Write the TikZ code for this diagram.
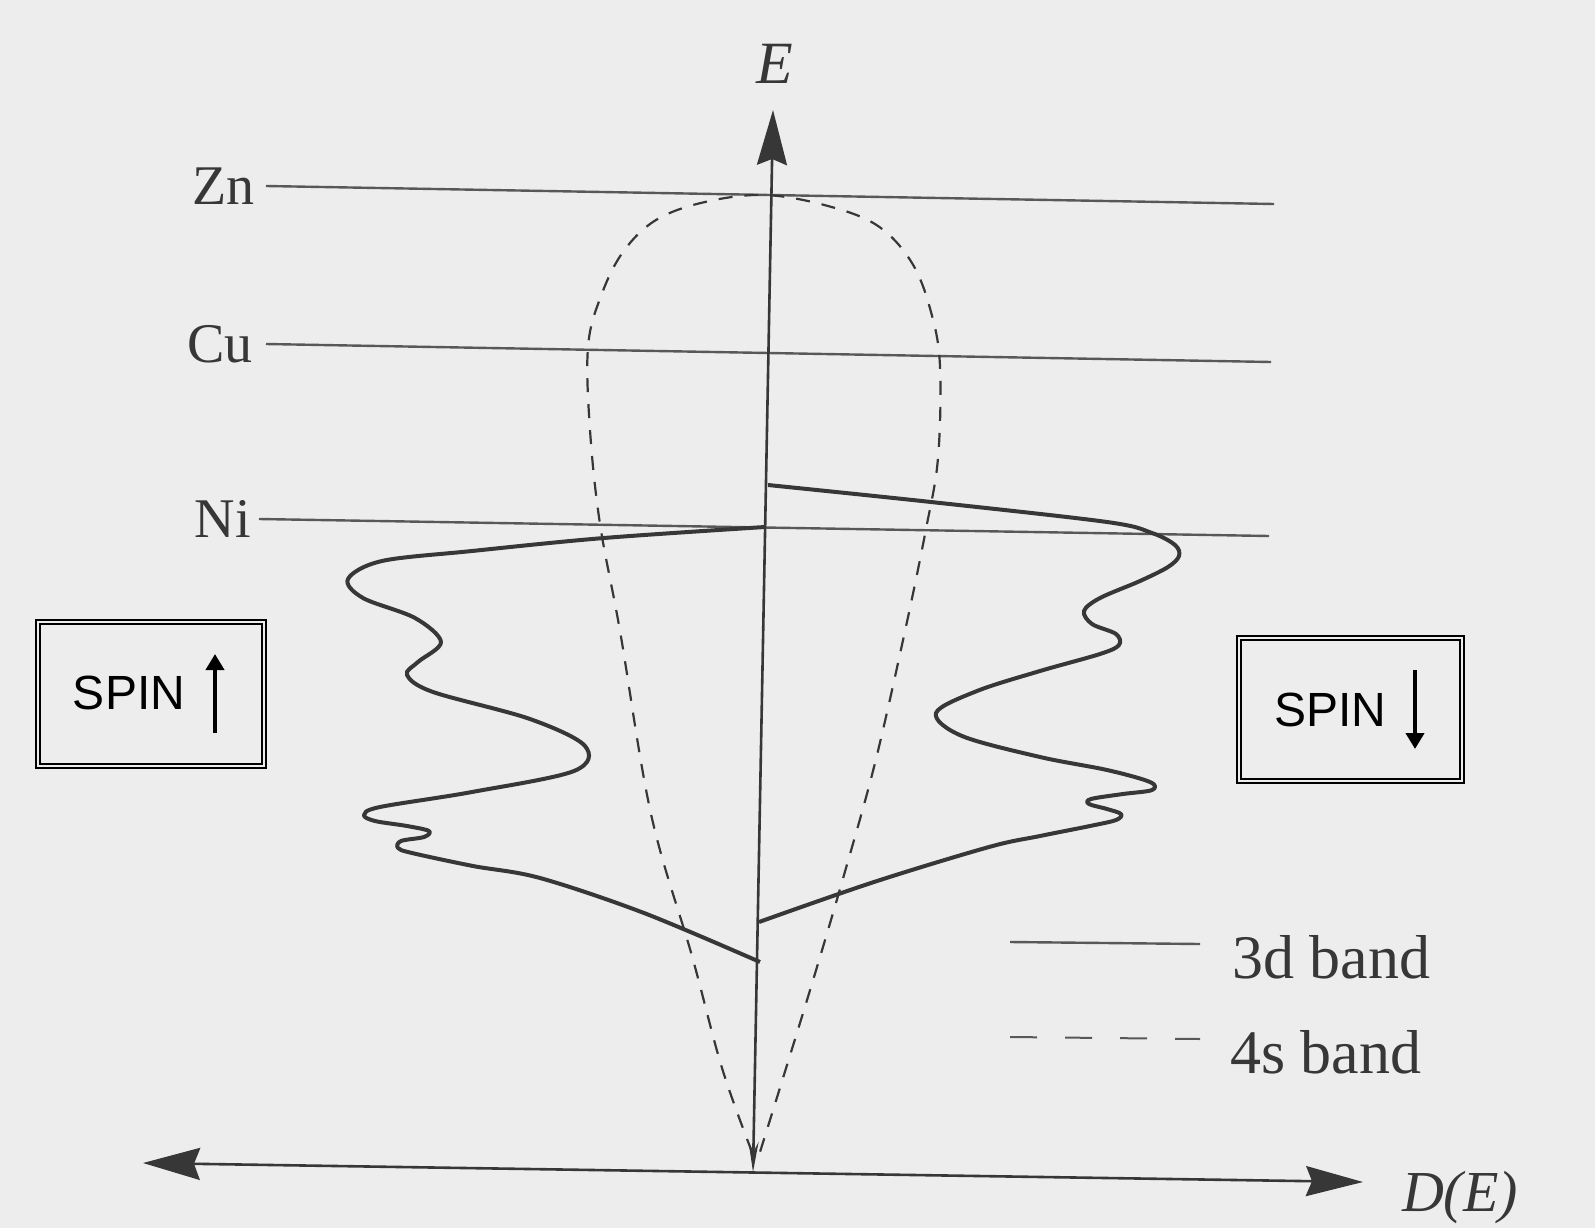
\documentclass[tikz,border=0pt]{standalone}
\usepackage{fontspec}
\setmainfont{Liberation Serif}
\newfontfamily\arialf{Liberation Sans}
\usetikzlibrary{arrows.meta}
\definecolor{bg}{RGB}{237,237,237}
\definecolor{ink}{RGB}{55,55,55}
\definecolor{lvl}{RGB}{88,88,88}
\tikzset{
  level/.style={draw=lvl, line width=2.4pt},
  lvllabel/.style={anchor=east, inner sep=2pt, text=ink, font=\fontsize{56}{60}\selectfont},
  axisline/.style={draw=ink, line width=2.6pt},
  band3d/.style={draw=ink, line width=4pt, line join=round},
  band4s/.style={draw=ink, line width=2.2pt, dash pattern=on 14pt off 12pt},
  spinbox/.style={draw=black, line width=1.8pt, double=bg, double distance=2.6pt, inner sep=0pt},
  spintext/.style={font=\arialf\fontsize{48}{52}\selectfont, text=black, inner sep=0pt},
  spinarrow/.style={draw=black, line width=4pt, -{Triangle[length=16pt,width=18pt]}},
  legtext/.style={anchor=base west, inner sep=0pt, text=ink, font=\fontsize{62}{66}\selectfont}
}
\begin{document}
\begin{tikzpicture}[x=1pt,y=-1pt]
\fill[bg] (0,0) rectangle (1595,1228);
\useasboundingbox (0,0) rectangle (1595,1228);

% energy levels
\coordinate (zna) at (266,186); \coordinate (znb) at (1274,204);
\coordinate (cua) at (266,344); \coordinate (cub) at (1271,362);
\coordinate (nia) at (259,519); \coordinate (nib) at (1269,536);
\draw[level] (zna) -- (znb);
\draw[level] (cua) -- (cub);
\draw[level] (nia) -- (nib);
\node[lvllabel] (zn) at ([xshift=-9pt]zna) {Zn};
\node[lvllabel] (cu) at ([xshift=-11pt]cua) {Cu};
\node[lvllabel] (ni) at ([xshift=-6pt]nia) {Ni};

% 4s band (dashed)
\draw[band4s] plot[smooth, tension=0.6] coordinates {
 (752,1152) (722,1068) (692,956) (651,814) (620,631) (600,524) (590,430)
 (588,347) (601,296) (623,252) (656,220) (705,202) (765,195) (828,206)
 (878,226) (912,263) (931,312) (940,366) (938,458) (926,529) (905,631)
 (875,763) (844,875) (814,977) (783,1078) (760,1152)};

% 3d band (solid) right part (spin down)
\draw[band3d] plot[smooth, tension=0.55] coordinates {
 (768,485) (931,502) (1107,522) (1152,533) (1175,545) (1179,556) (1168,567)
 (1140,581) (1100,598) (1084,611) (1092,624) (1116,634) (1119,645) (1100,654)
 (1040,671) (977,691) (936,713) (962,736) (1040,757) (1107,770) (1150,782)
 (1152,790) (1123,794) (1091,799) (1089,804) (1107,809) (1121,814) (1116,820)
 (1090,826) (1040,836) (989,847) (874,882) (759,922)};

% 3d band left part (spin up)
\draw[band3d] plot[smooth, tension=0.55] coordinates {
 (765,527) (604,538) (472,551) (382,561) (348,579) (363,598) (415,618)
 (441,642) (418,662) (407,675) (433,692) (530,719) (585,746) (574,771)
 (472,792) (380,807) (364,815) (375,821) (407,826) (429,831) (424,837)
 (401,841) (398,848) (412,853) (473,866) (540,878) (644,913) (760,962)};

% axes
\coordinate (eb) at (753,1172); \coordinate (et) at (773,110);
\coordinate (dl) at (143,1163); \coordinate (dr) at (1363,1182);
\draw[axisline, {Stealth[length=30pt,width=10pt]}-{Stealth[length=55pt,width=30pt,inset=6pt]}] (eb) -- (et);
\draw[axisline, {Stealth[length=57pt,width=32pt,inset=6pt]}-{Stealth[length=57pt,width=30pt,inset=6pt]}] (dl) -- (dr);
\node[text=ink, font=\itshape\fontsize{60}{64}\selectfont, inner sep=0pt] (elab) at (775,64) {E};
\node[text=ink, font=\itshape\fontsize{58}{62}\selectfont, inner sep=0pt] (delab) at (1460,1198) {D(E)};

% spin boxes
\node[spinbox, minimum width=225.8pt, minimum height=143.8pt] (sup) at (151,694) {};
\node[spintext] (suptext) at (129,693) {SPIN};
\coordinate (ua) at (215,733); \coordinate (ub) at (215,654);
\draw[spinarrow] (ua) -- (ub);

\node[spinbox, minimum width=222.8pt, minimum height=142.8pt] (sdn) at (1350.5,709.5) {};
\node[spintext] (sdntext) at (1330,710) {SPIN};
\coordinate (da) at (1415,670); \coordinate (db) at (1415,749);
\draw[spinarrow] (da) -- (db);

% legend
\coordinate (l1a) at (1010,942); \coordinate (l1b) at (1200,944);
\coordinate (l2a) at (1010,1037); \coordinate (l2b) at (1200,1039);
\draw[level] (l1a) -- (l1b);
\draw[draw=lvl, line width=2pt, dash pattern=on 27pt off 28pt] (l2a) -- (l2b);
\node[legtext] (leg3d) at (1232,978) {3d band};
\node[legtext] (leg4s) at (1230,1073) {4s band};
\end{tikzpicture}
\end{document}
